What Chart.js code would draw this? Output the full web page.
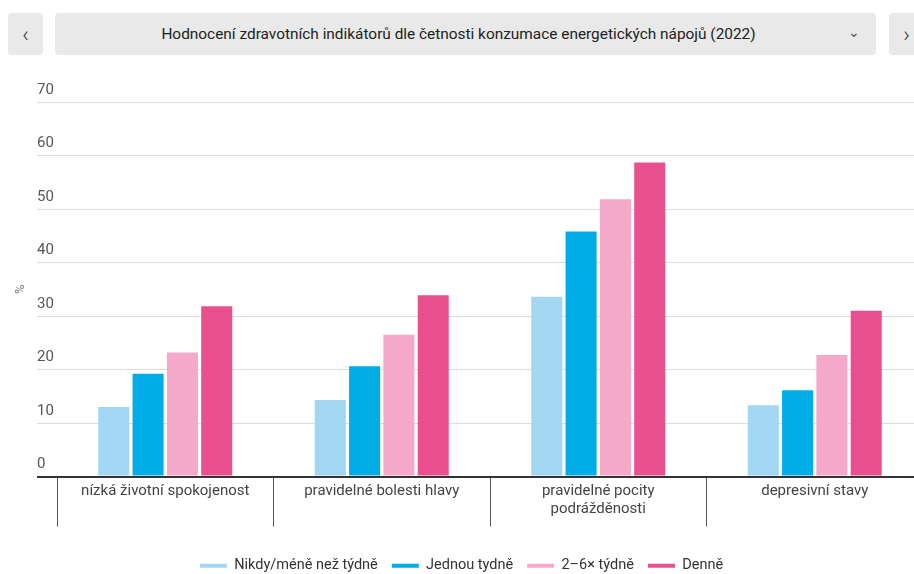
<!DOCTYPE html>
<html lang="cs">
<head>
<meta charset="utf-8">
<script src="https://cdn.jsdelivr.net/npm/chart.js@4"></script>
<style>
  html, body { margin: 0; padding: 0; background: #fff; overflow: hidden; width: 914px; height: 574px; }
  body { position: relative; font-family: Roboto, "Noto Sans", sans-serif; }
  .btn, .bar { position: absolute; top: 13px; height: 42px; background: #e9e9e9; border-radius: 4px;
    display: flex; align-items: center; justify-content: center; color: #333; }
  .btn { width: 35px; font-size: 22px; font-weight: 300; }
  #prev { left: 8px; }
  #next { left: 889px; }
  .bar { left: 55px; width: 821px; font-size: 15.4px; color: #222; box-sizing: border-box; padding-right: 14px; }
  .bar .chev { position: absolute; right: 16px; top: 11px; font-size: 14px; color: #555; }
  #wrap { position: absolute; left: 0; top: 70px; width: 923px; height: 513px; }
</style>
</head>
<body>
<div class="btn" id="prev">‹</div>
<div class="bar">Hodnocení zdravotních indikátorů dle četnosti konzumace energetických nápojů (2022)<span class="chev">⌄</span></div>
<div class="btn" id="next">›</div>
<div id="wrap"><canvas id="chart"></canvas></div>
<script>
// Hodnocení zdravotních indikátorů (2022), hodnoty v %
const categories = [
  'nízká životní spokojenost',
  'pravidelné bolesti hlavy',
  ['pravidelné pocity', 'podrážděnosti'],
  'depresivní stavy'
];
const seriesNames = ['Nikdy/méně než týdně', 'Jednou tydně', '2–6× týdně', 'Denně'];
const nikdy = [13.0, 14.3, 33.6, 13.3];
const jednou = [19.2, 20.6, 45.8, 16.1];
const dvaAzSest = [23.2, 26.5, 51.8, 22.7];
const denne = [31.8, 33.9, 58.7, 31.0];
const colors = ['#a3d6f0', '#00ade7', '#f4a9c9', '#e8508f'];

const ctx = document.getElementById('chart');
new Chart(ctx, {
  type: 'bar',
  data: {
    labels: categories,
    datasets: [nikdy, jednou, dvaAzSest, denne].map((d, i) => ({
      label: seriesNames[i],
      data: d,
      backgroundColor: colors[i],
      borderColor: colors[i],
      categoryPercentage: 0.634,
      barPercentage: 0.905
    }))
  },
  options: {
    responsive: true,
    maintainAspectRatio: false,
    animation: false,
    layout: { padding: { top: 32, right: 0, left: 0, bottom: 0 } },
    plugins: {
      tooltip: { enabled: false },
      legend: {
        position: 'bottom',
        labels: {
          boxWidth: 27,
          boxHeight: 4,
          padding: 14,
          color: '#333',
          font: { family: 'Roboto', size: 14.5 }
        }
      }
    },
    scales: {
      x: {
        border: { display: true, color: '#333', width: 2 },
        grid: { drawOnChartArea: false, drawTicks: true, tickLength: 50, color: '#555', offset: true },
        ticks: { padding: -44, color: '#444', font: { family: 'Roboto', size: 15 }, maxRotation: 0 },
        afterFit: s => { s.height = 68; }
      },
      y: {
        min: 0,
        max: 70,
        border: { display: false },
        grid: {
          color: c => c.tick && c.tick.value === 0 ? '#333' : '#dcdcdc',
          lineWidth: c => c.tick && c.tick.value === 0 ? 2 : 1,
          tickLength: 20
        },
        ticks: {
          stepSize: 10,
          mirror: true,
          padding: -20,
          labelOffset: -12,
          color: '#555',
          font: { family: 'Roboto', size: 15 }
        },
        title: { display: true, text: '%', color: '#777', font: { family: 'Roboto', size: 13 }, padding: { top: 13, bottom: 0 } },
        afterFit: s => { s.width = 57; }
      }
    }
  }
});
</script>
</body>
</html>
